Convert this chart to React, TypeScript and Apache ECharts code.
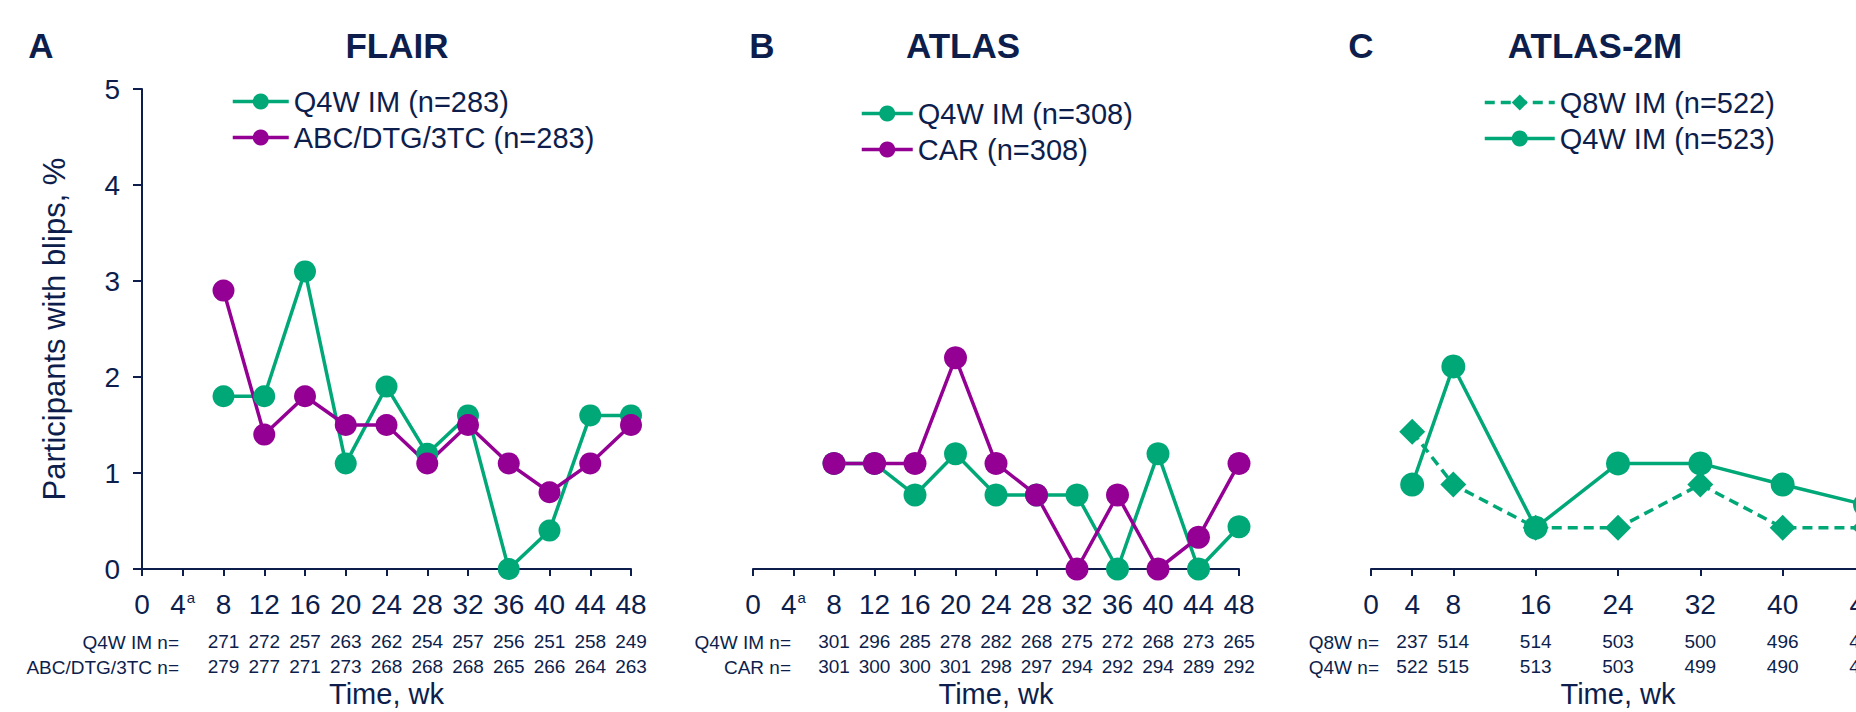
import React, { useEffect, useRef } from 'react';
import * as echarts from 'echarts';

const NAVY = '#0d1e4c';
const GREEN = '#00a878';
const PURPLE = '#930093';
const FONT = '"Liberation Sans", Arial, sans-serif';

// Tick labels
const xTicksAB = [0, 4, 8, 12, 16, 20, 24, 28, 32, 36, 40, 44, 48];
const xTicksC = [0, 4, 8, 16, 24, 32, 40, 48];

// FLAIR
const weeksFlair = [8, 12, 16, 20, 24, 28, 32, 36, 40, 44, 48];
const flairQ4W = [1.8, 1.8, 3.1, 1.1, 1.9, 1.2, 1.6, 0, 0.4, 1.6, 1.6];
const flairABC = [2.9, 1.4, 1.8, 1.5, 1.5, 1.1, 1.5, 1.1, 0.8, 1.1, 1.5];
const flairNQ4W = [271, 272, 257, 263, 262, 254, 257, 256, 251, 258, 249];
const flairNABC = [279, 277, 271, 273, 268, 268, 268, 265, 266, 264, 263];

// ATLAS
const weeksAtlas = [8, 12, 16, 20, 24, 28, 32, 36, 40, 44, 48];
const atlasQ4W = [1.1, 1.1, 0.77, 1.2, 0.77, 0.77, 0.77, 0, 1.2, 0, 0.44];
const atlasCAR = [1.1, 1.1, 1.1, 2.2, 1.1, 0.77, 0, 0.77, 0, 0.33, 1.1];
const atlasNQ4W = [301, 296, 285, 278, 282, 268, 275, 272, 268, 273, 265];
const atlasNCAR = [301, 300, 300, 301, 298, 297, 294, 292, 294, 289, 292];

// ATLAS-2M
const weeks2M = [4, 8, 16, 24, 32, 40, 48];
const a2mQ8W = [1.43, 0.88, 0.43, 0.43, 0.88, 0.43, 0.43];
const a2mQ4W = [0.88, 2.11, 0.43, 1.1, 1.1, 0.88, 0.67];
const a2mNQ8W = [237, 514, 514, 503, 500, 496, 494];
const a2mNQ4W = [522, 515, 513, 503, 499, 490, 488];

const grids = [
  { left: 142, top: 89, width: 489, height: 480, outerBoundsMode: 'none', containLabel: false },
  { left: 753, top: 89, width: 486, height: 480, outerBoundsMode: 'none', containLabel: false },
  { left: 1371, top: 89, width: 494, height: 480, outerBoundsMode: 'none', containLabel: false },
];

function mainX(gridIndex: number, ticks: number[], supA: boolean) {
  return {
    type: 'value',
    gridIndex,
    position: 'bottom',
    min: 0,
    max: 48,
    interval: 4,
    axisLine: { show: true, onZero: false, lineStyle: { color: NAVY, width: 2 } },
    axisTick: { show: true, inside: false, length: 7, customValues: ticks, lineStyle: { color: NAVY, width: 2 } },
    splitLine: { show: false },
    axisLabel: {
      customValues: ticks,
      margin: 21,
      formatter: (v: number) => (supA && v === 4 ? '{n|4}{s|a}' : '{n|' + v + '}'),
      rich: {
        n: { fontSize: 28, color: NAVY, fontFamily: FONT },
        s: { fontSize: 15, color: NAVY, fontFamily: FONT, verticalAlign: 'top', padding: [0, 0, 0, 1] },
      },
    },
    name: 'Time, wk',
    nameLocation: 'middle',
    nameGap: 110,
    nameTextStyle: { fontSize: 29, color: NAVY, fontFamily: FONT },
  };
}

function nRowX(gridIndex: number, weeks: number[], ns: number[], margin: number) {
  return {
    type: 'value',
    gridIndex,
    position: 'bottom',
    min: 0,
    max: 48,
    axisLine: { show: false, onZero: false },
    axisTick: { show: false },
    splitLine: { show: false },
    axisLabel: {
      customValues: weeks,
      margin,
      fontSize: 19,
      color: NAVY,
      fontFamily: FONT,
      formatter: (v: number) => {
        const i = weeks.indexOf(v);
        return i >= 0 ? String(ns[i]) : '';
      },
    },
  };
}

function yAxis(gridIndex: number, show: boolean) {
  return {
    type: 'value',
    gridIndex,
    min: 0,
    max: 5,
    interval: 1,
    show,
    axisLine: { show: true, lineStyle: { color: NAVY, width: 2 } },
    axisTick: { show: true, inside: false, length: 9, lineStyle: { color: NAVY, width: 2 } },
    splitLine: { show: false },
    axisLabel: { fontSize: 28, color: NAVY, fontFamily: FONT, margin: 22 },
    name: show ? 'Participants with blips, %' : '',
    nameLocation: 'middle',
    nameGap: 72,
    nameTextStyle: { fontSize: 31, color: NAVY, fontFamily: FONT },
  };
}

function lineSeries(name: string, xi: number, weeks: number[], vals: number[], color: string, symbol: string, size: number, dashed = false) {
  return {
    type: 'line',
    name,
    xAxisIndex: xi,
    yAxisIndex: xi,
    data: weeks.map((w, i) => [w, vals[i]]),
    symbol,
    symbolSize: size,
    clip: false,
    lineStyle: { color, width: 3.5, type: dashed ? [10, 6] : 'solid' },
    itemStyle: { color },
  };
}

function legend(names: string[], left: number, top: number, itemWidth: number) {
  return {
    data: names,
    orient: 'vertical',
    left,
    top,
    padding: 0,
    itemGap: 7,
    itemWidth,
    itemHeight: 20,
    textStyle: { fontSize: 29, color: NAVY, fontFamily: FONT },
    lineStyle: { width: 3.5 },
  };
}

function txt(text: string, x: number, y: number, size: number, bold: boolean, align: string) {
  return {
    type: 'text',
    x,
    y,
    style: {
      text,
      fill: NAVY,
      font: `${bold ? 'bold ' : ''}${size}px ${FONT}`,
      fontSize: size,
      fontWeight: bold ? 'bold' : 'normal',
      fontFamily: FONT,
      align,
      textAlign: align,
      verticalAlign: 'middle',
      textVerticalAlign: 'middle',
    },
  };
}

export default function App() {
  const ref = useRef<HTMLDivElement>(null);
  useEffect(() => {
    if (!ref.current) return;
    const chart = echarts.init(ref.current, null, { renderer: 'svg' });
    const option = {
      animation: false,
      backgroundColor: '#ffffff',
      textStyle: { fontFamily: FONT },
      grid: grids,
      xAxis: [
        mainX(0, xTicksAB, true),
        mainX(1, xTicksAB, true),
        mainX(2, xTicksC, false),
        nRowX(0, weeksFlair, flairNQ4W, 63),
        nRowX(0, weeksFlair, flairNABC, 88),
        nRowX(1, weeksAtlas, atlasNQ4W, 63),
        nRowX(1, weeksAtlas, atlasNCAR, 88),
        nRowX(2, weeks2M, a2mNQ8W, 63),
        nRowX(2, weeks2M, a2mNQ4W, 88),
      ],
      yAxis: [yAxis(0, true), yAxis(1, false), yAxis(2, false)],
      legend: [
        legend(['Q4W IM (n=283)', 'ABC/DTG/3TC (n=283)'], 231, 87, 56),
        legend(['Q4W IM (n=308)', 'CAR (n=308)'], 860, 99, 51),
        legend(['Q8W IM (n=522)', 'Q4W IM (n=523)'], 1483, 88, 70),
      ],
      series: [
        lineSeries('Q4W IM (n=283)', 0, weeksFlair, flairQ4W, GREEN, 'circle', 22),
        lineSeries('ABC/DTG/3TC (n=283)', 0, weeksFlair, flairABC, PURPLE, 'circle', 22),
        lineSeries('Q4W IM (n=308)', 1, weeksAtlas, atlasQ4W, GREEN, 'circle', 23),
        lineSeries('CAR (n=308)', 1, weeksAtlas, atlasCAR, PURPLE, 'circle', 23),
        lineSeries('Q8W IM (n=522)', 2, weeks2M, a2mQ8W, GREEN, 'diamond', 26, true),
        lineSeries('Q4W IM (n=523)', 2, weeks2M, a2mQ4W, GREEN, 'circle', 24),
      ],
      graphic: [
        txt('A', 41, 45, 35, true, 'center'),
        txt('FLAIR', 397, 45, 35, true, 'center'),
        txt('B', 762, 45, 35, true, 'center'),
        txt('ATLAS', 963, 45, 35, true, 'center'),
        txt('C', 1361, 45, 35, true, 'center'),
        txt('ATLAS-2M', 1595, 45, 35, true, 'center'),
        txt('Q4W IM n=', 179, 642, 19, false, 'right'),
        txt('ABC/DTG/3TC n=', 179, 667, 19, false, 'right'),
        txt('Q4W IM n=', 791, 642, 19, false, 'right'),
        txt('CAR n=', 791, 667, 19, false, 'right'),
        txt('Q8W n=', 1379, 642, 19, false, 'right'),
        txt('Q4W n=', 1379, 667, 19, false, 'right'),
      ],
    };
    chart.setOption(option as any);
    return () => chart.dispose();
  }, []);
  return (
    <div
      ref={ref}
      style={{ position: 'fixed', left: 0, top: 0, width: 1856, height: 712, background: '#fff' }}
    />
  );
}
